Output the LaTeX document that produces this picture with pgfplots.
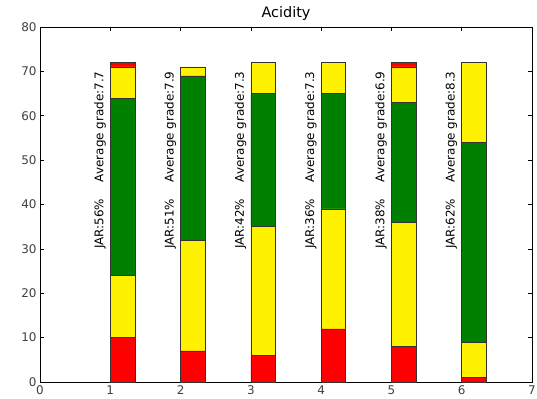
\documentclass[border=0pt]{standalone}
\usepackage{pgfplots}
\pgfplotsset{compat=1.18}
\usepackage{fontspec}
\setmainfont{DejaVu Sans}
\definecolor{mplgreen}{RGB}{0,128,0}
\begin{document}
\begin{tikzpicture}
\begin{axis}[
  scale only axis,
  width=492bp, height=355bp,
  xmin=0, xmax=7, ymin=0, ymax=80,
  xtick={0,1,...,7}, ytick={0,10,...,80},
  tick align=inside,
  xtick pos=both, ytick pos=both,
  major tick length=4bp,
  tick style={black, line width=0.6pt},
  axis line style={black, line width=0.8pt},
  ticklabel style={font=\fontsize{12}{14}\selectfont, text=black!75},
  /pgf/number format/assume math mode=true,
  title={Acidity},
  title style={font=\fontsize{14.5}{16}\selectfont, yshift=-3bp},
  ybar stacked,
  bar width=0.35,
  bar shift=0.175,
  every axis plot/.append style={draw=black!80, line width=0.5pt},
  clip=false,
]
\addplot[fill=red] coordinates {(1,10) (2,7) (3,6) (4,12) (5,8) (6,1)};
\addplot[fill=yellow] coordinates {(1,14) (2,25) (3,29) (4,27) (5,28) (6,8)};
\addplot[fill=mplgreen] coordinates {(1,40) (2,37) (3,30) (4,26) (5,27) (6,45)};
\addplot[fill=yellow] coordinates {(1,7) (2,2) (3,7) (4,7) (5,8) (6,18)};
\addplot[fill=red] coordinates {(1,1) (2,0) (3,0) (4,0) (5,1) (6,0)};
\foreach \i/\g/\j in {1/7.7/56,2/7.9/51,3/7.3/42,4/7.3/36,5/6.9/38,6/8.3/62}{
  \edef\temp{\noexpand\node[rotate=90, anchor=base west, inner sep=0pt, font=\noexpand\fontsize{12}{14}\noexpand\selectfont] at (axis cs:\i-0.1,45) {Average grade:\g};
  \noexpand\node[rotate=90, anchor=base west, inner sep=0pt, font=\noexpand\fontsize{12}{14}\noexpand\selectfont] at (axis cs:\i-0.1,30) {JAR:\j\noexpand\%};}
  \temp
}
\end{axis}
\pgfresetboundingbox
\path (current axis.south west) ++(-40bp,-17bp) coordinate (bl);
\path (current axis.south west) ++(497bp,382bp) coordinate (tr);
\path[use as bounding box] (bl) rectangle (tr);
\end{tikzpicture}
\end{document}
